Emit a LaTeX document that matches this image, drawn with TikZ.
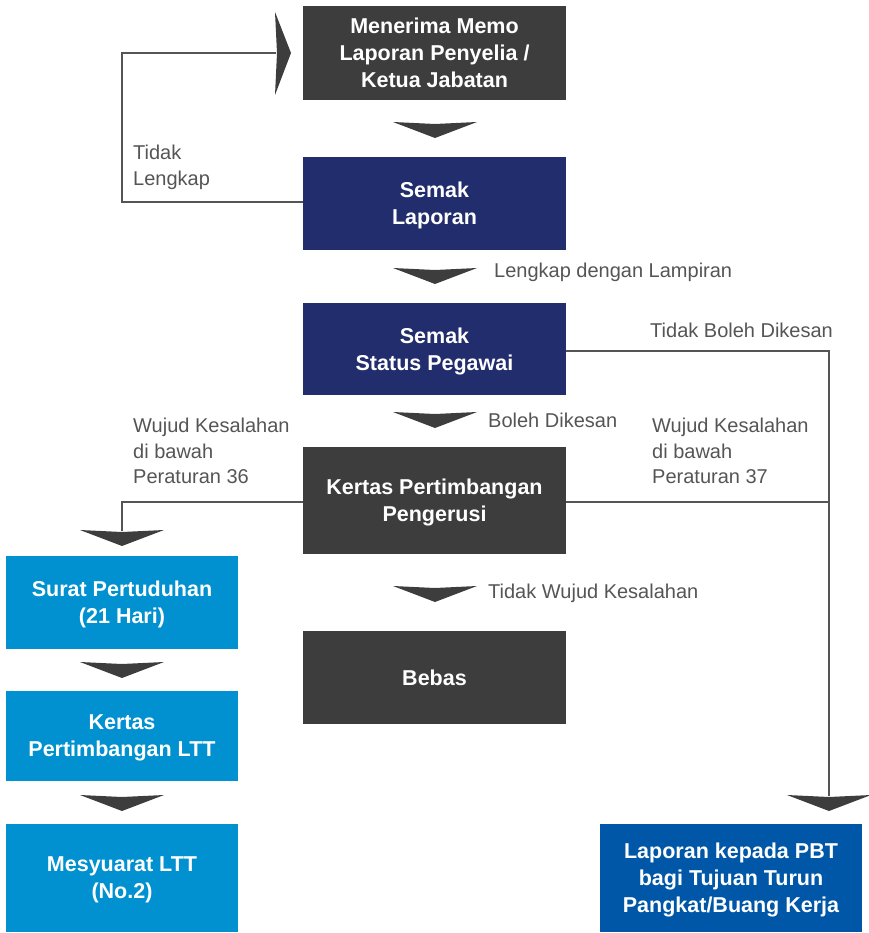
\documentclass[tikz,border=0pt]{standalone}
\usepackage{fontspec}
\setmainfont{Liberation Sans}
\definecolor{dgray}{HTML}{3D3D3D}
\definecolor{navy}{HTML}{222D6D}
\definecolor{lblue}{HTML}{0191D0}
\definecolor{dblue}{HTML}{0157A7}
\definecolor{linec}{HTML}{555555}
\definecolor{labc}{HTML}{555555}
\begin{document}
\begin{tikzpicture}[x=1pt,y=-1pt,
  box/.style={rectangle,inner sep=0,align=center,text=white,
    font=\bfseries\fontsize{21.5}{27}\selectfont,text depth=0pt},
  wide/.style={box,minimum width=263pt},
  narrow/.style={box,minimum width=232pt},
  lab/.style={inner sep=0,align=left,text=labc,font=\fontsize{20}{25.5}\selectfont},
  conn/.style={draw=linec,line width=1.4pt},
  head/.style={fill=dgray}]
\useasboundingbox (0,0) rectangle (868,933);
% main column
\node[wide,fill=dgray,minimum height=94pt] (b1) at (434.5,53) {Menerima Memo\\Laporan Penyelia /\\Ketua Jabatan};
\node[wide,fill=navy,minimum height=93pt] (b2) at (434.5,203.5) {Semak\\Laporan};
\node[wide,fill=navy,minimum height=92pt] (b3) at (434.5,349) {Semak\\Status Pegawai};
\node[wide,fill=dgray,minimum height=107pt] (b4) at (434.5,500.5) {Kertas Pertimbangan\\Pengerusi};
\node[wide,fill=dgray,minimum height=93pt] (b5) at (434.5,677.5) {Bebas};
% left column
\node[narrow,fill=lblue,minimum height=93pt] (b6) at (122,602.5) {Surat Pertuduhan\\(21 Hari)};
\node[narrow,fill=lblue,minimum height=90pt] (b7) at (122,736) {Kertas\\Pertimbangan LTT};
\node[narrow,fill=lblue,minimum height=108pt] (b8) at (122,878) {Mesyuarat LTT\\(No.2)};
% right
\node[box,fill=dblue,minimum width=262pt,minimum height=108pt] (b9) at (731,878) {Laporan kepada PBT\\bagi Tujuan Turun\\Pangkat/Buang Kerja};
% arrowheads
\newcommand{\downhead}[2]{\fill[head] (#1-42,#2) -- (#1,#2+2) -- (#1+42,#2) -- (#1,#2+16) -- cycle;}
\downhead{435}{122}
\downhead{435}{268}
\downhead{435}{412}
\downhead{435}{586}
\downhead{122}{530}
\downhead{122}{662}
\downhead{122}{795}
\downhead{829}{795}
\fill[head] (275,12) -- (277,53) -- (275,95) -- (291,53) -- cycle;
% connectors
\coordinate (fb) at (276,53);
\coordinate (lc) at (122,531);
\coordinate (rc) at (829,796);
\draw[conn] (b2.west |- 0,202) -- (122,202) |- (fb);
\draw[conn] (b4.west |- 0,502) -| (lc);
\draw[conn] (b3.east |- 0,351) -| (rc);
\draw[conn] (b4.east |- 0,502) -- (829,502);
% labels
\node[lab,anchor=north west] (l1) at (133,145) {Tidak\\Lengkap};
\node[lab,anchor=west] (l2) at (494,272) {Lengkap dengan Lampiran};
\node[lab,anchor=west] (l3) at (650,330) {Tidak Boleh Dikesan};
\node[lab,anchor=west] (l4) at (488,420) {Boleh Dikesan};
\node[lab,anchor=north west] (l5) at (652,418) {Wujud Kesalahan\\di bawah\\Peraturan 37};
\node[lab,anchor=north west] (l6) at (133,418) {Wujud Kesalahan\\di bawah\\Peraturan 36};
\node[lab,anchor=west] (l7) at (488,593) {Tidak Wujud Kesalahan};
\end{tikzpicture}
\end{document}
